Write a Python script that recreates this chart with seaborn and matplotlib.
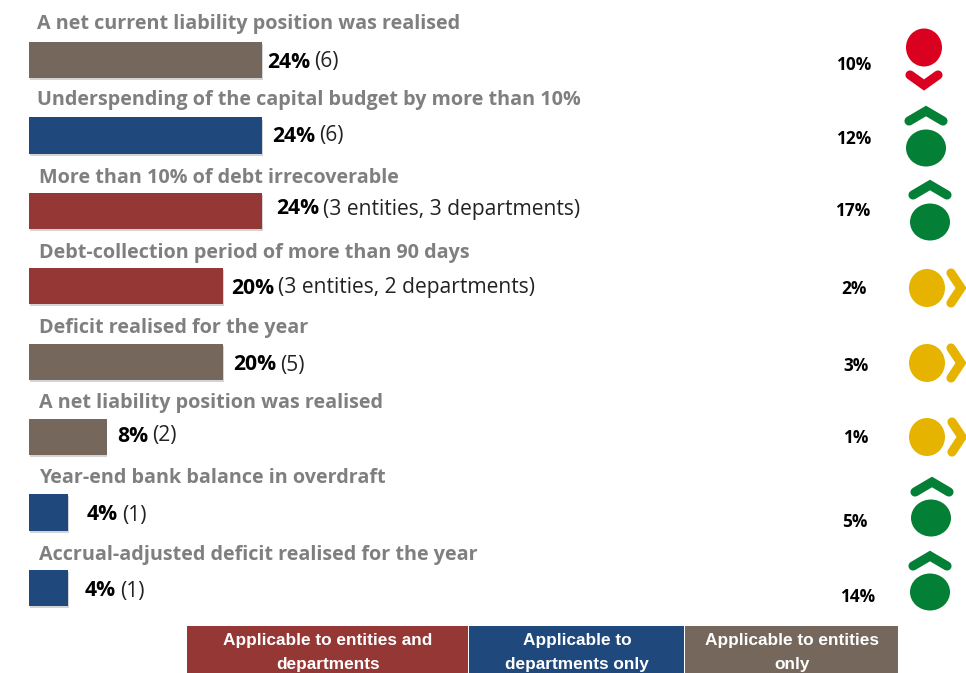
from matplotlib import pyplot as plt
from matplotlib.patches import Ellipse, Rectangle
import matplotlib.patheffects as pe
import seaborn as sns
import pandas as pd

titles = [
    "A net current liability position was realised",
    "Underspending of the capital budget by more than 10%",
    "More than 10% of debt irrecoverable",
    "Debt-collection period of more than 90 days",
    "Deficit realised for the year",
    "A net liability position was realised",
    "Year-end bank balance in overdraft",
    "Accrual-adjusted deficit realised for the year",
]
percent = [24, 24, 24, 20, 20, 8, 4, 4]
counts = ["(6)", "(6)", "(3 entities, 3 departments)", "(3 entities, 2 departments)", "(5)", "(2)", "(1)", "(1)"]
groups = ["entities", "departments", "both", "both", "entities", "entities", "departments", "departments"]
change = ["10%", "12%", "17%", "2%", "3%", "1%", "5%", "14%"]
trend = ["down", "up", "up", "flat", "flat", "flat", "up", "up"]
legend_labels = ["Applicable to entities and\ndepartments", "Applicable to\ndepartments only", "Applicable to entities\nonly"]

palette = {"both": "#953735", "departments": "#1F497D", "entities": "#75675B"}
trend_colors = {"down": "#DA0020", "up": "#047F36", "flat": "#E6B400"}
FONT = "Open Sans"

# hand placement, the original is a slide so nothing lines up exactly
title_x = [37, 37, 39, 39, 39, 39, 39, 39]
title_y = [24, 100, 178, 253, 328, 403, 478, 555]
label_x = [267, 272, 276, 231, 233, 117, 87, 85]
label_y = [62, 136, 209, 288, 365, 436, 515, 591]
change_x = [854, 854, 853, 854, 856, 856, 855, 858]
change_y = [65, 139, 211, 289, 366, 438, 522, 597]
circle_xy = [(924, 47.5), (926, 148), (930, 222), (927, 288), (927, 363), (927, 437), (931, 518), (930, 592)]
chevron_xy = [(924, 81), (926, 115), (930, 189), (955, 288), (955, 363), (956, 437), (932, 486), (930, 560)]
legend_x = [187, 469, 685, 899]

df = pd.DataFrame({"title": titles, "percent": percent, "group": groups})

fig = plt.figure(figsize=(9.66, 6.73), dpi=100)

# bars: 24% runs from x=29 to x=262, rows are 75.4 px apart
ax = fig.add_axes([29 / 966, 1 - 625.5 / 673, 933 / 966, 603 / 673])
sns.barplot(
    data=df, y="title", x="percent", hue="group", palette=palette,
    dodge=False, legend=False, width=0.48, saturation=1, ax=ax,
)
ax.set_xlim(0, 933 / (233 / 24))
ax.set_ylim(7.5, -0.5)
ax.axis("off")
for bar in ax.patches:
    bar.set_path_effects([pe.SimplePatchShadow(offset=(0.5, -1.5), shadow_rgbFace="#aaaaaa", alpha=0.5), pe.Normal()])

# everything else in pixel coordinates
over = fig.add_axes([0, 0, 1, 1], facecolor="none")
over.set_xlim(0, 966)
over.set_ylim(673, 0)
over.axis("off")

for i in range(len(titles)):
    over.text(title_x[i], title_y[i], titles[i], color="#7F7F7F", fontsize=14.2,
              fontweight="bold", family=FONT, va="center")
    t = over.text(label_x[i], label_y[i], f"{percent[i]}%", color="black", fontsize=15.2,
                  fontweight="bold", family=FONT, va="center")
    over.annotate(counts[i], xy=(1, 0.5), xycoords=t, xytext=(3, 0), textcoords="offset points",
                  color="#222222", fontsize=15.1, family=FONT, va="center")
    over.text(change_x[i], change_y[i], change[i], color="black", fontsize=12.4,
              fontweight="bold", family=FONT, ha="center", va="center")

    col = trend_colors[trend[i]]
    cx, cy = circle_xy[i]
    if trend[i] == "up":
        over.add_patch(Ellipse((cx, cy), 40, 37, color=col, lw=0))
    else:
        over.add_patch(Ellipse((cx, cy), 36, 38, color=col, lw=0))
    hx, hy = chevron_xy[i]
    if trend[i] == "down":
        xs, ys = [hx - 14, hx, hx + 14], [hy - 6, hy + 4, hy - 6]
    elif trend[i] == "up":
        xs, ys = [hx - 17, hx, hx + 17], [hy + 6, hy - 4, hy + 6]
    else:
        xs, ys = [hx - 4, hx + 6, hx - 4], [hy - 15, hy, hy + 15]
    over.plot(xs, ys, color=col, lw=6.6, solid_capstyle="round", solid_joinstyle="miter")

for i, lab in enumerate(legend_labels):
    key = ["both", "departments", "entities"][i]
    over.add_patch(Rectangle((legend_x[i], 626), legend_x[i + 1] - legend_x[i] - 1, 50, color=palette[key], lw=0))
    over.text((legend_x[i] + legend_x[i + 1]) / 2, 653, lab, color="white", fontsize=12.4, fontweight="bold",
              family="Liberation Sans", ha="center", va="center", linespacing=1.75, clip_on=True)

plt.savefig("out.png", dpi=100)
